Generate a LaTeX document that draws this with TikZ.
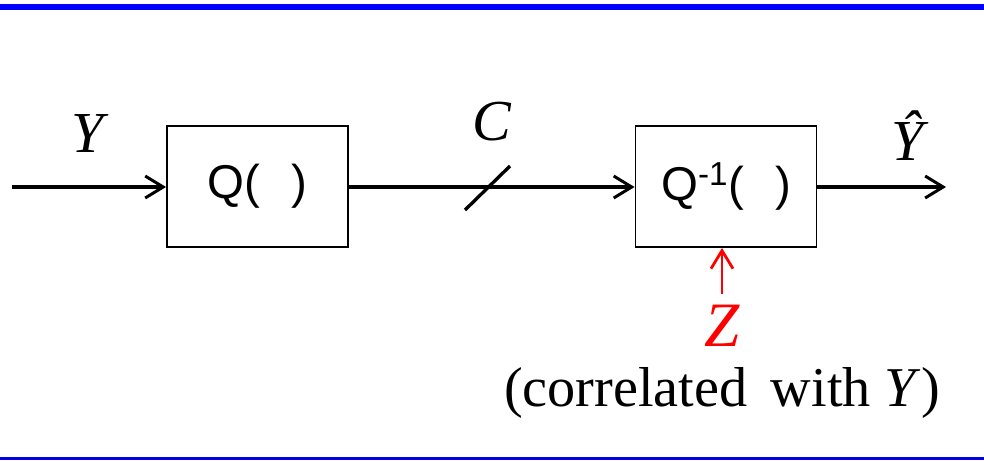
\documentclass[tikz,border=0pt]{standalone}
\usepackage{fontspec}
\setmainfont{Liberation Serif}
\newfontfamily\arialfont{Liberation Sans}
\usepackage{xcolor}
\usepackage{tikz}
\usetikzlibrary{arrows.meta,positioning}

\begin{document}
\begin{tikzpicture}[
    x=0.02cm, y=-0.02cm,
    box/.style={
      draw=black, line width=1.1pt, minimum width=3.62cm,
      minimum height=2.42cm, inner sep=0pt,
      font=\arialfont\fontsize{27}{32}\selectfont
    },
    sym/.style={font=\fontsize{33}{38}\selectfont\itshape, inner sep=0pt},
    arrow/.style={-{Straight Barb[length=3.6mm,width=4.4mm,line width=1.7pt]},line width=1.9pt},
    sidearrow/.style={-{Straight Barb[length=3.6mm,width=4.4mm,line width=1.6pt]},line width=1.6pt,draw=red}
  ]
    \useasboundingbox (0,0) rectangle (984,460);
    % frame lines
    \fill[blue] (0,4) rectangle (984,10);
    \fill[blue!90!black] (0,457) rectangle (984,460);

    \node[box] (quant) at (257.5,186.5) {Q(\hspace{0.65em})};
    \node[box] (dequant) at (726,186.5) {Q\textsuperscript{-1}(\hspace{0.65em})};
    \coordinate (src) at (12,187);
    \coordinate (sink) at (946,187);
    \coordinate (side) at (722,294);

    \draw[arrow] (src) -- (quant.west |- src);
    \draw[arrow] (quant.east |- src) -- (dequant.west |- src);
    \draw[arrow] (dequant.east |- src) -- (sink);
    \draw[line width=1.9pt] (465,210) -- (510,166);
    \draw[sidearrow] (side) -- (dequant.south -| side);

    \node[sym] (ylab) at (88,134) {Y};
    \node[sym] (clab) at (492,122) {C};
    \node[sym] (yhat) at (908,136) {\^{Y}};
    \node[sym, text=red, font=\fontsize{36}{40}\selectfont\itshape] (zlab) at (722,326) {Z};
    \node[font=\fontsize{32}{38}\selectfont, inner sep=0pt] (note) at (722,393) {(correlated\, with \textit{Y})};
  \end{tikzpicture}
\end{document}
